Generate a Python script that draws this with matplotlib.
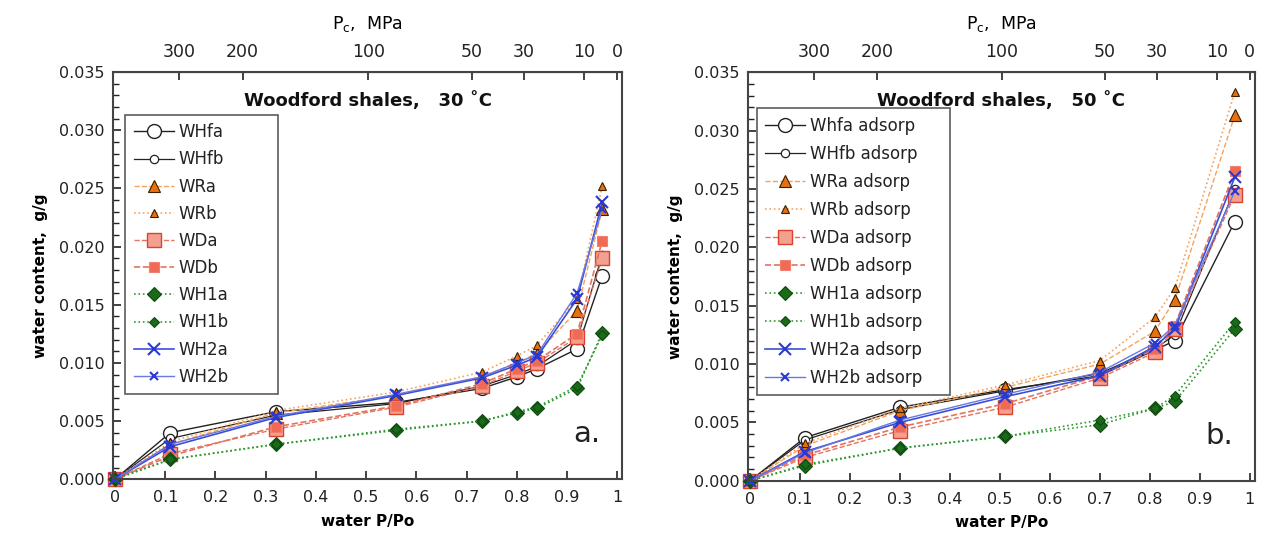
import numpy as np
import matplotlib
matplotlib.use('Agg')
import matplotlib.pyplot as plt
from matplotlib.ticker import MultipleLocator

# sample names and series values
names_30 = ['WHfa', 'WHfb', 'WRa', 'WRb', 'WDa', 'WDb', 'WH1a', 'WH1b', 'WH2a', 'WH2b']
names_50 = ['Whfa adsorp', 'WHfb adsorp', 'WRa adsorp', 'WRb adsorp', 'WDa adsorp', 'WDb adsorp',
            'WH1a adsorp', 'WH1b adsorp', 'WH2a adsorp', 'WH2b adsorp']

pp0_30 = [0, 0.11, 0.32, 0.56, 0.73, 0.80, 0.84, 0.92, 0.97]
whfa_30 = [0, 0.0040, 0.0058, 0.0066, 0.0078, 0.0088, 0.0095, 0.0112, 0.0175]
whfb_30 = [0, 0.0035, 0.0055, 0.0065, 0.0080, 0.0090, 0.0097, 0.0120, 0.0193]
wra_30 = [0, 0.0030, 0.0057, 0.0072, 0.0088, 0.0100, 0.0108, 0.0145, 0.0232]
wrb_30 = [0, 0.0032, 0.0059, 0.0075, 0.0092, 0.0106, 0.0115, 0.0155, 0.0252]
wda_30 = [0, 0.0022, 0.0043, 0.0062, 0.0080, 0.0093, 0.0100, 0.0122, 0.0190]
wdb_30 = [0, 0.0020, 0.0045, 0.0063, 0.0082, 0.0095, 0.0102, 0.0125, 0.0205]
wh1a_30 = [0, 0.0017, 0.0030, 0.0042, 0.0050, 0.0057, 0.0061, 0.0078, 0.0126]
wh1b_30 = [0, 0.0017, 0.0030, 0.0043, 0.0050, 0.0058, 0.0062, 0.0080, 0.0124]
wh2a_30 = [0, 0.0028, 0.0053, 0.0072, 0.0087, 0.0098, 0.0105, 0.0155, 0.0238]
wh2b_30 = [0, 0.0030, 0.0054, 0.0073, 0.0088, 0.0100, 0.0107, 0.0160, 0.0232]

pp0_50 = [0, 0.11, 0.30, 0.51, 0.70, 0.81, 0.85, 0.97]
whfa_50 = [0, 0.0037, 0.0063, 0.0078, 0.0090, 0.0112, 0.0120, 0.0222]
whfb_50 = [0, 0.0035, 0.0061, 0.0077, 0.0092, 0.0113, 0.0125, 0.0250]
wra_50 = [0, 0.0030, 0.0060, 0.0080, 0.0100, 0.0128, 0.0155, 0.0313]
wrb_50 = [0, 0.0032, 0.0062, 0.0082, 0.0103, 0.0140, 0.0165, 0.0333]
wda_50 = [0, 0.0020, 0.0043, 0.0063, 0.0088, 0.0110, 0.0130, 0.0245]
wdb_50 = [0, 0.0022, 0.0046, 0.0066, 0.0090, 0.0113, 0.0133, 0.0265]
wh1a_50 = [0, 0.0013, 0.0028, 0.0038, 0.0048, 0.0062, 0.0068, 0.0130]
wh1b_50 = [0, 0.0014, 0.0028, 0.0038, 0.0052, 0.0062, 0.0073, 0.0136]
wh2a_50 = [0, 0.0025, 0.0050, 0.0072, 0.0090, 0.0115, 0.0130, 0.0260]
wh2b_50 = [0, 0.0024, 0.0052, 0.0074, 0.0093, 0.0118, 0.0133, 0.0248]

# capillary pressure ticks on the top axis (MPa)
pc_ticks = [300, 200, 100, 50, 30, 10, 0]

# line/marker styles per sample (same order as names)
styles = [
    dict(color='#222222', ls='-', lw=1.0, marker='o', ms=10, mfc='white', mec='#222222', mew=1.0),
    dict(color='#222222', ls='-', lw=0.9, marker='o', ms=6, mfc='white', mec='#222222', mew=0.9),
    dict(color='#f5a35c', ls='--', lw=1.0, marker='^', ms=9, mfc='#e8700f', mec='#3a2000', mew=0.8),
    dict(color='#f5a35c', ls=':', lw=1.2, marker='^', ms=6, mfc='#e8700f', mec='#3a2000', mew=0.8),
    dict(color='#e5735e', ls='--', lw=1.0, marker='s', ms=10, mfc='#f3a090', mec='#d9442e', mew=1.0),
    dict(color='#e5735e', ls='--', lw=1.2, marker='s', ms=7, mfc='#f06a55', mec='#f08070', mew=0.8),
    dict(color='#2e9a2e', ls=':', lw=1.2, marker='D', ms=7, mfc='#1a6a1a', mec='#0e4a0e', mew=0.8),
    dict(color='#2e9a2e', ls=':', lw=1.2, marker='D', ms=5, mfc='#1a6a1a', mec='#0e4a0e', mew=0.8),
    dict(color='#3a4fd8', ls='-', lw=1.2, marker='x', ms=9, mec='#2a3ad0', mew=1.5),
    dict(color='#6a78e0', ls='-', lw=1.0, marker='x', ms=6, mec='#2a3ad0', mew=1.5),
]


def kelvin_pp0(pc, c):
    # relative pressure at which a given capillary pressure applies
    return np.exp(-np.asarray(pc, dtype=float) / c)


def setup_axes(ax, title, letter, c):
    ax.set_xlim(-0.004, 1.01)
    ax.set_ylim(0, 0.035)
    ax.xaxis.set_major_locator(MultipleLocator(0.1))
    ax.yaxis.set_major_locator(MultipleLocator(0.005))
    ax.yaxis.set_minor_locator(MultipleLocator(0.001))
    ax.xaxis.set_major_formatter(plt.FuncFormatter(lambda v, p: ('%.1f' % v).rstrip('0').rstrip('.') if v > 0 else '0'))
    ax.yaxis.set_major_formatter(plt.FuncFormatter(lambda v, p: '%.3f' % v))
    ax.tick_params(axis='both', which='both', direction='in', labelsize=11.5, colors='#222222')
    ax.tick_params(axis='y', which='major', length=6, width=1.2, pad=6)
    ax.tick_params(axis='y', which='minor', length=4, width=1.0)
    ax.tick_params(axis='x', which='major', length=6, width=1.2, pad=8)
    for s in ax.spines.values():
        s.set_linewidth(1.5)
        s.set_color('#444444')
    ax.set_xlabel('water P/Po', fontsize=11, fontweight='bold', labelpad=6)
    ax.set_ylabel('water content,  g/g', fontsize=11, fontweight='bold', labelpad=8)

    top = ax.secondary_xaxis('top')
    top.set_xticks(kelvin_pp0(pc_ticks, c))
    top.set_xticklabels([str(p) for p in pc_ticks])
    top.tick_params(direction='in', length=6, width=1.2, labelsize=12.5, colors='#222222', pad=8)
    top.set_xlabel(r'P$_\mathregular{c}$,  MPa', fontsize=12.5, labelpad=10)

    ax.text(0.5, 0.93, title, transform=ax.transAxes, ha='center', va='center',
            fontsize=13, fontweight='bold', color='#111111')
    ax.text(0.93, 0.11, letter, transform=ax.transAxes, ha='center', va='center',
            fontsize=21, color='#222222')


def main():
    fig = plt.figure(figsize=(12.7, 5.39), dpi=100)
    ax1 = fig.add_axes([0.089, 0.111, 0.401, 0.755])
    ax2 = fig.add_axes([0.589, 0.108, 0.399, 0.758])

    series_30 = [whfa_30, whfb_30, wra_30, wrb_30, wda_30, wdb_30, wh1a_30, wh1b_30, wh2a_30, wh2b_30]
    series_50 = [whfa_50, whfb_50, wra_50, wrb_50, wda_50, wdb_50, wh1a_50, wh1b_50, wh2a_50, wh2b_50]

    for name, y, st in zip(names_30, series_30, styles):
        ax1.plot(pp0_30, y, label=name, clip_on=False, **st)
    for name, y, st in zip(names_50, series_50, styles):
        ax2.plot(pp0_50, y, label=name, clip_on=False, **st)

    setup_axes(ax1, 'Woodford shales,   30 \u02daC', 'a.', 146)
    setup_axes(ax2, 'Woodford shales,   50 \u02daC', 'b.', 146)

    leg_kw = dict(fontsize=12, frameon=True, fancybox=False, edgecolor='#333333',
                  handlelength=2.4, borderpad=0.5, handletextpad=0.3,
                  borderaxespad=0, mode='expand')
    # legend boxes span a fixed width, as in the original
    l1 = ax1.legend(loc='upper left', bbox_to_anchor=(0.024, 0.895, 0.30, 0), labelspacing=0.55, **leg_kw)
    l2 = ax2.legend(loc='upper left', bbox_to_anchor=(0.018, 0.912, 0.38, 0), labelspacing=0.6, **leg_kw)
    for leg in (l1, l2):
        leg.get_frame().set_linewidth(1.2)
        for t in leg.get_texts():
            t.set_color('#222222')

    plt.savefig('out.png', dpi=100)
    plt.close()


if __name__ == '__main__':
    main()
